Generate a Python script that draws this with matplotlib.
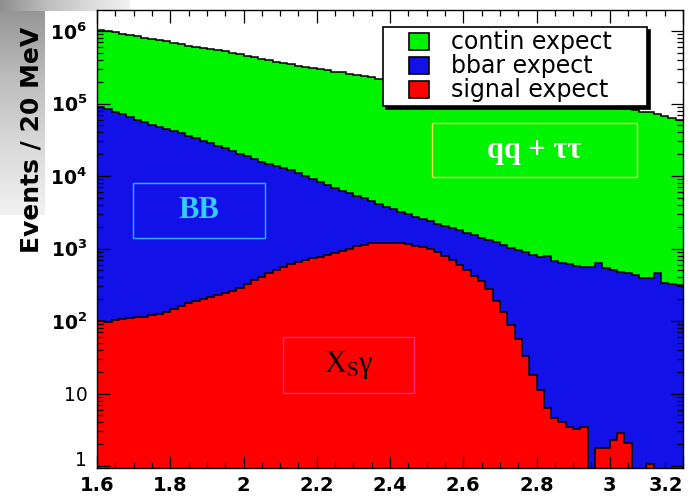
import numpy as np
import matplotlib
matplotlib.use('Agg')
import matplotlib.pyplot as plt
import matplotlib.patches as mpatches
from matplotlib.legend_handler import HandlerPatch
from matplotlib.ticker import FixedLocator, LogLocator, MultipleLocator, FuncFormatter, NullFormatter

plt.rcParams.update({
    'font.family': 'DejaVu Sans',
    'mathtext.fontset': 'custom',
    'mathtext.rm': 'DejaVu Sans:bold',
    'mathtext.bf': 'DejaVu Sans:bold',
    'mathtext.sf': 'Liberation Serif',
})

# ---------------------------------------------------------------------------
# Data: 80 bins of 20 MeV from 1.6 to 3.2 (events per bin)
# ---------------------------------------------------------------------------
x_lo, x_hi, n_bins = 1.6, 3.2, 80

contin = [
    934000, 917000, 879000, 841000, 826000, 791000, 757000, 725000, 693000, 679000,
    650000, 622000, 596000, 570000, 558000, 534000, 524000, 500000, 479000, 459000,
    438000, 420000, 401000, 383000, 366000, 350000, 335000, 320000, 314000, 300000,
    287000, 280000, 268000, 263000, 251000, 246000, 235000, 225000, 215000, 205000,
    200000, 197000, 188000, 183000, 175000, 172000, 164000, 160000, 156000, 149000,
    146000, 143000, 140000, 134000, 131000, 128000, 125000, 119000, 116600, 114000,
    108800, 106400, 104000, 101700, 99400, 97100, 94900, 92700, 90600, 88600,
    86600, 84600, 82700, 80900, 77200, 75500, 71900, 67300, 62800, 58600,
]

bbar = [
    89000, 83100, 75800, 70700, 64500, 60100, 56100, 51200, 47700, 44500,
    41500, 38700, 35300, 32900, 30700, 28000, 26100, 24300, 22100, 20100,
    18300, 17000, 15400, 14300, 13300, 12300, 11400, 10300, 9310, 8380,
    7540, 6770, 6050, 5380, 4750, 4180, 3780, 3290, 2870, 2590,
    2350, 2060, 1870, 1660, 1520, 1420, 1300, 1250, 1210, 1190,
    1120, 1100, 1060, 1040, 1040, 990, 934, 899, 858, 795,
    748, 788, 671, 627, 600, 572, 558, 550, 629, 535,
    499, 476, 455, 427, 398, 388, 457, 331, 324, 316,
]

signal = [
    100, 98, 102, 107, 110, 112, 115, 120, 126, 135,
    148, 162, 178, 191, 204, 214, 229, 245, 263, 288,
    324, 363, 407, 457, 501, 550, 603, 646, 692, 741,
    776, 813, 871, 933, 1000, 1072, 1122, 1175, 1202, 1210,
    1200, 1175, 1148, 1096, 1047, 977, 891, 794, 692, 589,
    501, 417, 355, 275, 191, 132, 89, 56, 33, 17.8,
    11.2, 6.3, 4.6, 4.0, 3.5, 3.2, 3.5, 0, 1.8, 1.8,
    2.3, 2.85, 2.1, 0, 0, 1.07, 0, 0, 0, 0,
]

labels = ['contin expect', 'bbar expect', 'signal expect']
colors = ['#00f400', '#1212e8', '#ff0000']

x_ticks = [1.6, 1.8, 2.0, 2.2, 2.4, 2.6, 2.8, 3.0, 3.2]
y_ticks = [1, 10, 1e2, 1e3, 1e4, 1e5, 1e6]
y_ticklabels = ['1', '10', '$10^{2}$', '$10^{3}$', '$10^{4}$', '$10^{5}$', '$10^{6}$']

# ---------------------------------------------------------------------------
# Figure
# ---------------------------------------------------------------------------
W, H = 695, 499
fig = plt.figure(figsize=(W / 100, H / 100), dpi=100)

# grey slide decoration in the top-left corner
grad = np.linspace(0, 1, 100).reshape(-1, 1)
deco = fig.add_axes([0, 1 - 215 / H, 45 / W, 215 / H])
deco.imshow(grad, aspect='auto', cmap='Greys_r', vmin=-1.2, vmax=1.3, extent=[0, 1, 0, 1])
deco.axis('off')
deco2 = fig.add_axes([0, 1 - 11 / H, 130 / W, 11 / H])
deco2.imshow(grad.T, aspect='auto', cmap='Greys_r', vmin=-1.2, vmax=1.3, extent=[0, 1, 0, 1])
deco2.axis('off')

ax = fig.add_axes([97 / W, 1 - 468 / H, 586 / W, 458 / H])

edges = np.linspace(x_lo, x_hi, n_bins + 1)
floor = 0.3
s_sig = np.array(signal, dtype=float)
s_bb = s_sig + np.array(bbar, dtype=float)
s_all = s_bb + np.array(contin, dtype=float)

for lvl, col in [(s_all, colors[0]), (s_bb, colors[1]), (np.maximum(s_sig, floor), colors[2])]:
    ax.stairs(lvl, edges, baseline=floor, fill=True, color=col, lw=0)
for lvl in [s_all, s_bb, np.maximum(s_sig, floor)]:
    ax.stairs(lvl, edges, baseline=None, color='black', lw=1.1)

ax.set_yscale('log')
ax.set_xlim(x_lo, x_hi)
ax.set_ylim(0.94, 1.95e6)

ax.xaxis.set_major_locator(FixedLocator(x_ticks))
ax.xaxis.set_major_formatter(FuncFormatter(lambda v, p: f'{v:g}'))
ax.xaxis.set_minor_locator(MultipleLocator(0.05))
ax.yaxis.set_major_locator(FixedLocator(y_ticks))
ax.set_yticklabels(y_ticklabels)
ax.yaxis.set_minor_locator(LogLocator(base=10, subs=np.arange(2, 10)))
ax.yaxis.set_minor_formatter(NullFormatter())

ax.tick_params(which='both', direction='in', top=True, right=True, width=0.9)
ax.tick_params(which='major', length=9)
ax.tick_params(which='minor', length=4.5)
ax.tick_params(axis='x', labelsize=14, pad=6)
ax.tick_params(axis='y', labelsize=13.5, pad=7)
fig.canvas.draw()
xt = ax.get_xticklabels()
for t in xt:
    t.set_fontweight('bold')
xt[-1].set_ha('right')
yt = ax.get_yticklabels()
yt[0].set_va('baseline')
for sp in ax.spines.values():
    sp.set_linewidth(1.0)

fig.text(32 / W, 1 - 140 / H, 'Events / 20 MeV', rotation=90, ha='center', va='center',
         fontsize=18, fontweight='bold')


# legend with square markers sitting at the right of a wide handle box
def square(legend, orig_handle, xdescent, ydescent, width, height, fontsize):
    return mpatches.Rectangle((-xdescent + width - height * 1.15, -ydescent), height * 1.15, height)


handles = [mpatches.Patch(facecolor=c, edgecolor='black', lw=1.2) for c in colors]
leg = ax.legend(handles, labels, loc='upper left', bbox_to_anchor=(0.488, 0.819, 0.4505, 0.144),
                mode='expand', borderaxespad=0, fontsize=17, labelspacing=0.0,
                handlelength=1.8, handleheight=0.75, handletextpad=0.95, borderpad=0.15,
                fancybox=False, edgecolor='black', framealpha=1,
                shadow={'color': 'black', 'alpha': 1},
                handler_map={mpatches.Patch: HandlerPatch(patch_func=square)})
leg.get_frame().set_linewidth(1.2)

# labelled boxes
boxes = [
    ((0.0614, 0.5022), 0.2253, 0.1201, '#22b8ff', 'BB', (0.174, 0.563), '#33ccff', 'bold'),
    ((0.5717, 0.6354), 0.3498, 0.1179, '#e6e64a', 'qq + ττ', (0.7466, 0.694), 'white', 'bold'),
    ((0.3174, 0.1638), 0.2236, 0.1222, '#ff2a8a', r'$\mathsf{X_{S}γ}$', (0.429, 0.225), 'black', 'normal'),
]
for xy, w, h, ec, txt, pos, tc, fw in boxes:
    ax.add_patch(mpatches.Rectangle(xy, w, h, transform=ax.transAxes, fill=False,
                                    edgecolor=ec, lw=1.0, zorder=5))
    ax.text(pos[0], pos[1], txt, transform=ax.transAxes, ha='center', va='center',
            color=tc, fontsize=22, family='Liberation Serif', fontweight=fw, zorder=6)

fig.savefig('out.png', dpi=100)
